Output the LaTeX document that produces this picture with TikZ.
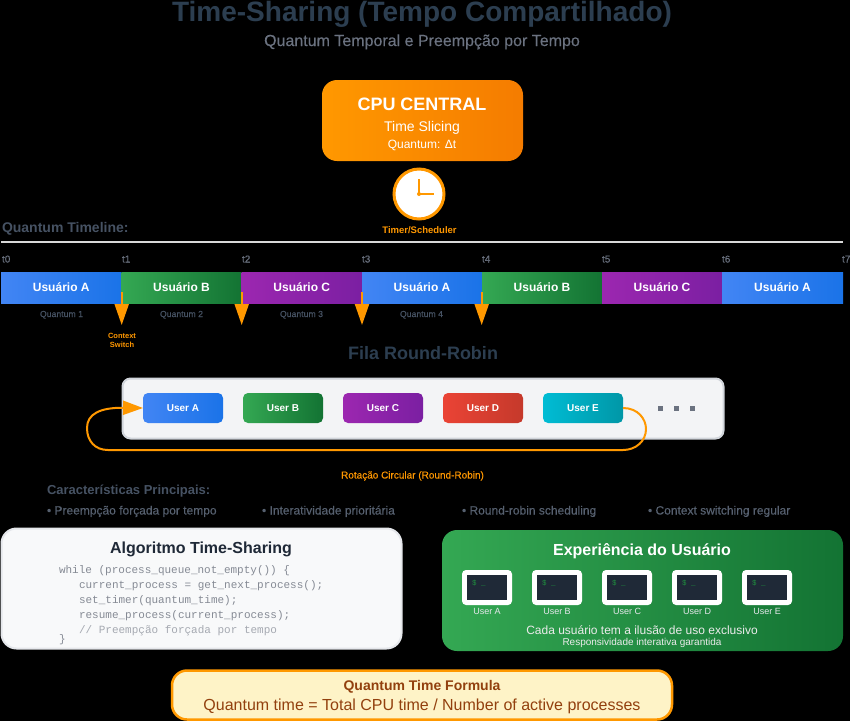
\documentclass[tikz,border=0pt]{standalone}
\usepackage{fontspec}
\setmainfont{Liberation Sans}
\setmonofont{Liberation Mono}
\newfontfamily\heavyfont[FakeBold=0.25]{Liberation Sans}
\usetikzlibrary{arrows.meta}
\newcommand{\pxf}[1]{\fontsize{#1}{#1}\selectfont}
\definecolor{orangeA}{HTML}{FF9800}
\definecolor{orangeB}{HTML}{F57C00}
\definecolor{blueA}{HTML}{4285F4}
\definecolor{blueB}{HTML}{1A73E8}
\definecolor{greenA}{HTML}{34A853}
\definecolor{greenB}{HTML}{137333}
\definecolor{purpleA}{HTML}{9C27B0}
\definecolor{purpleB}{HTML}{7B1FA2}
\definecolor{redA}{HTML}{EA4335}
\definecolor{redB}{HTML}{C5392B}
\definecolor{cyanA}{HTML}{00BCD4}
\definecolor{cyanB}{HTML}{0097A7}
\definecolor{ink}{HTML}{1F2937}
\definecolor{titleink}{HTML}{2C3E50}
\definecolor{slate}{HTML}{465263}
\definecolor{midgrey}{HTML}{56606F}
\definecolor{softgrey}{HTML}{6B7280}
\definecolor{codegrey}{HTML}{858A94}
\definecolor{commentgrey}{HTML}{A5A9B1}
\definecolor{paleline}{HTML}{D8D8D8}
\definecolor{qfill}{HTML}{F3F4F6}
\definecolor{qline}{HTML}{D1D5DB}
\definecolor{algfill}{HTML}{F8F9FA}
\definecolor{algline}{HTML}{E5E7EB}
\definecolor{formfill}{HTML}{FEF3C7}
\definecolor{formink}{HTML}{92400E}
\definecolor{promptgreen}{HTML}{1E8E3E}
\tikzset{
  txt/.style={inner sep=0pt,outer sep=0pt,anchor=base,text=#1},
  txtl/.style={inner sep=0pt,outer sep=0pt,anchor=base west,text=#1},
  seg/.style 2 args={inner sep=0pt,outer sep=0pt,minimum height=31pt,left color=#1,right color=#2,text=white,font=\pxf{12}\bfseries},
  userbox/.style 2 args={rounded corners=5pt,inner sep=0pt,outer sep=0pt,minimum width=80pt,minimum height=30pt,left color=#1,right color=#2,text=white,font=\pxf{10}\bfseries},
  flow/.style={draw=orangeA,line width=2pt},
  switcharrow/.style={flow,-{Triangle[length=21pt,width=14pt,fill=orangeA]}},
  code/.style={inner sep=0pt,outer sep=0pt,anchor=base west,font=\ttfamily\pxf{11},text=codegrey},
}
\begin{document}
\begin{tikzpicture}[x=1pt,y=-1pt]
\path[use as bounding box,fill=black] (0,0) rectangle (850,721);
% titles
\node[txt=titleink,font=\pxf{28}\bfseries] (title) at (422,21.5) {Time-Sharing (Tempo Compartilhado)};
\node[txt=softgrey,font=\heavyfont\pxf{16}] (subtitle) at (422,46) {Quantum Temporal e Preempção por Tempo};
% CPU
\node[rounded corners=15pt,inner sep=0pt,minimum width=201pt,minimum height=81pt,left color=orangeA,right color=orangeB] (cpu) at (422.5,120.5) {};
\node[txt=white,font=\pxf{18}\bfseries] (cputitle) at (422,110.5) {CPU CENTRAL};
\node[txt=white,font=\pxf{14}] (cpusub) at (422,131) {Time Slicing};
\node[txt=white,font=\pxf{12}] (cpuq) at (422,148.5) {Quantum: Δt};
% clock
\node[circle,draw=orangeA,line width=3pt,fill=white,minimum size=50pt,inner sep=0pt] (clock) at (419,194) {};
\draw[orangeA,line width=2pt] (clock.center) -- ++(0,-15);
\draw[orangeA,line width=1.5pt] (clock.center) -- ++(15,0);
\fill[orangeA] (clock.center) circle (2);
\node[txt=orangeA,font=\pxf{9.5}\bfseries] (timer) at (419.5,233.5) {Timer/Scheduler};
% timeline
\node[txtl=slate,font=\pxf{14}\bfseries] (qt) at (2,232.5) {Quantum Timeline:};
\coordinate (ruleL) at (1,242);
\coordinate (ruleR) at (843,242);
\draw[paleline,line width=2pt] (ruleL) -- (ruleR);
\foreach \i/\x in {0/2,1/122,2/242,3/362,4/482,5/602,6/722,7/842}{
  \node[txtl=softgrey,font=\heavyfont\pxf{10}] (tick\i) at (\x,262.5) {t\i};
}
\node[seg={blueA}{blueB},minimum width=120.5pt] (s1) at (61.25,287.5) {Usuário A};
\node[seg={greenA}{greenB},minimum width=120pt] (s2) at (181.5,287.5) {Usuário B};
\node[seg={purpleA}{purpleB},minimum width=120.5pt] (s3) at (301.75,287.5) {Usuário C};
\node[seg={blueA}{blueB},minimum width=120pt] (s4) at (422,287.5) {Usuário A};
\node[seg={greenA}{greenB},minimum width=120pt] (s5) at (542,287.5) {Usuário B};
\node[seg={purpleA}{purpleB},minimum width=120pt] (s6) at (662,287.5) {Usuário C};
\node[seg={blueA}{blueB},minimum width=121pt] (s7) at (782.5,287.5) {Usuário A};
\foreach \i/\x in {1/61.5,2/181.5,3/301.5,4/421.5}{
  \node[txt=slate,font=\heavyfont\pxf{8.7}] (qlabel\i) at (\x,317) {Quantum \i};
}
\foreach \i/\x in {1/121.7,2/241.7,3/362,4/481.7}{
  \coordinate (swA\i) at (\x,292);
  \coordinate (swB\i) at (\x,325);
  \draw[switcharrow] (swA\i) -- (swB\i);
}
\node[txt=orangeA,font=\pxf{7.5}\bfseries] (ctx1) at (122,338) {Context};
\node[txt=orangeA,font=\pxf{7.5}\bfseries] (ctx2) at (122,347.5) {Switch};
% queue
\node[txt=titleink,font=\pxf{18}\bfseries] (fila) at (423,359.5) {Fila Round-Robin};
\node[rounded corners=8pt,draw=qline,line width=2pt,fill=qfill,inner sep=0pt,minimum width=601pt,minimum height=60pt] (queue) at (423,408.5) {};
\node[userbox={blueA}{blueB}] (ua) at (183,408) {User A};
\node[userbox={greenA}{greenB}] (ub) at (283,408) {User B};
\node[userbox={purpleA}{purpleB}] (uc) at (383,408) {User C};
\node[userbox={redA}{redB}] (ud) at (483,408) {User D};
\node[userbox={cyanA}{cyanB}] (ue) at (583,408) {User E};
\foreach \x in {660,676,692}{
  \fill[softgrey] (\x-2.5,406.2) rectangle (\x+2.5,411.2);
}
\draw[flow,-{Triangle[length=20pt,width=14pt,fill=orangeA]}]
  (ue.east) .. controls (638,408) and (646,419) .. (646,429)
  .. controls (646,441) and (636,450) .. (623,450) -- (108,450)
  .. controls (95,450) and (87,441) .. (87,428)
  .. controls (87,414) and (100,407.5) .. (ua.west);
\node[txt=orangeA,font=\heavyfont\pxf{10}] (rot) at (412.5,478.5) {Rotação Circular (Round-Robin)};
% characteristics
\node[txtl=slate,font=\pxf{13}\bfseries] (car) at (47,494.5) {Características Principais:};
\node[txtl=midgrey,font=\heavyfont\pxf{12}] (b1) at (47,514.5) {• Preempção forçada por tempo};
\node[txtl=midgrey,font=\heavyfont\pxf{12}] (b2) at (262,514.5) {• Interatividade prioritária};
\node[txtl=midgrey,font=\heavyfont\pxf{12}] (b3) at (462,514.5) {• Round-robin scheduling};
\node[txtl=midgrey,font=\heavyfont\pxf{12}] (b4) at (648,514.5) {• Context switching regular};
% algorithm
\node[rounded corners=15pt,draw=algline,line width=2pt,fill=algfill,inner sep=0pt,minimum width=400pt,minimum height=120pt] (alg) at (201.5,588.5) {};
\node[txt=ink,font=\pxf{16}\bfseries] (algt) at (201,553.5) {Algoritmo Time-Sharing};
\node[code] (c1) at (59,573) {while (process\_queue\_not\_empty()) \{};
\node[code] (c2) at (79,588) {current\_process = get\_next\_process();};
\node[code] (c3) at (79,603) {set\_timer(quantum\_time);};
\node[code] (c4) at (79,618) {resume\_process(current\_process);};
\node[code,text=commentgrey] (c5) at (79,633) {// Preempção forçada por tempo};
\node[code] (c6) at (59,642.5) {\}};
% experience
\node[rounded corners=15pt,inner sep=0pt,minimum width=401pt,minimum height=121pt,left color=greenA,right color=greenB] (exp) at (642.5,590.5) {};
\node[txt=white,font=\pxf{16}\bfseries] (expt) at (642,555.5) {Experiência do Usuário};
\foreach \n/\x in {A/462,B/532,C/602,D/672,E/742}{
  \node[rounded corners=4pt,fill=white,inner sep=0pt,minimum width=50pt,minimum height=35pt] (term\n) at (\x+25,587.5) {};
  \node[fill=ink,inner sep=0pt,minimum width=40pt,minimum height=25pt] (scr\n) at (\x+25,587.5) {};
  \node[txtl=promptgreen,font=\ttfamily\pxf{7.5}] (prompt\n) at (\x+10,585.5) {\$ \_};
  \node[txt=algline,font=\pxf{9}] (lab\n) at (\x+25,614.5) {User \n};
}
\node[txt=white!92!black,font=\pxf{12}] (exp1) at (642,634.5) {Cada usuário tem a ilusão de uso exclusivo};
\node[txt=white!92!black,font=\pxf{10}] (exp2) at (642,645.5) {Responsividade interativa garantida};
% formula
\node[rounded corners=15pt,draw=orangeA,line width=2.5pt,fill=formfill,inner sep=0pt,minimum width=500pt,minimum height=49pt] (form) at (422,695) {};
\node[txt=formink,font=\pxf{14}\bfseries] (ft) at (422,690) {Quantum Time Formula};
\node[txt=formink,font=\pxf{16}] (ff) at (422,710) {Quantum time = Total CPU time / Number of active processes};
\end{tikzpicture}
\end{document}
